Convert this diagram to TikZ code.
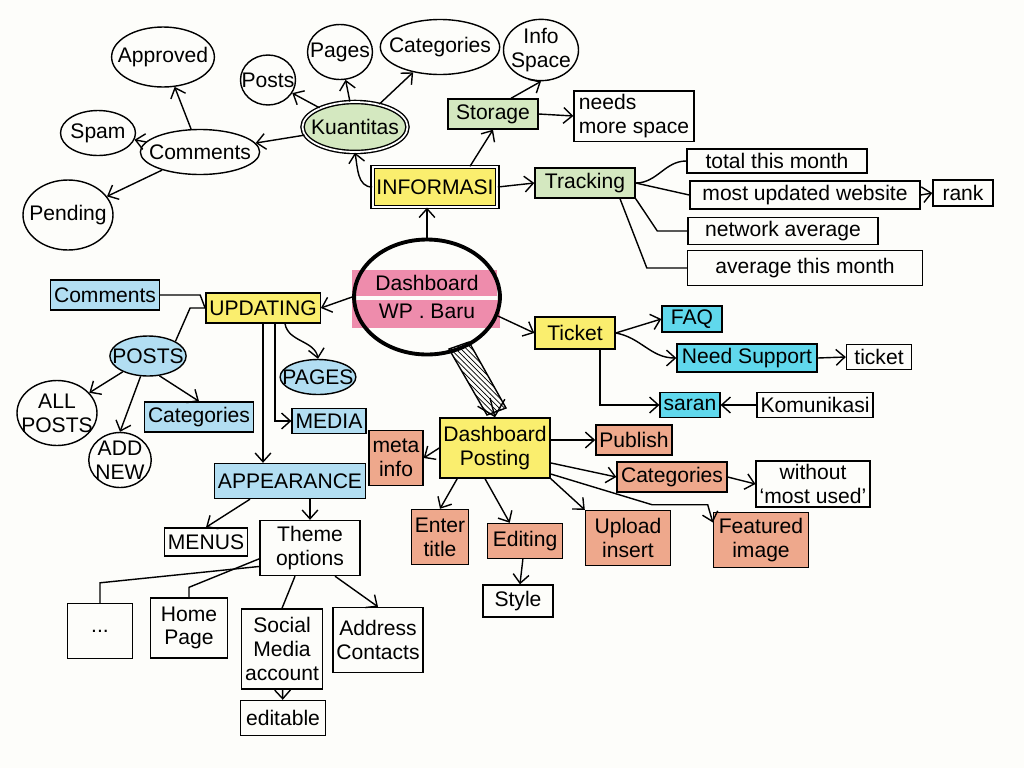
\documentclass[tikz,border=0pt]{standalone}
\usepackage{fontspec}
\setmainfont{Liberation Sans}
\usepackage{tikz}
\usetikzlibrary{shapes.geometric, arrows.meta, positioning, calc, patterns}
\definecolor{paper}{RGB}{253,253,250}
\definecolor{hlyellow}{RGB}{250,238,110}
\definecolor{hlgreen}{RGB}{212,232,192}
\definecolor{hlblue}{RGB}{178,222,242}
\definecolor{hlcyan}{RGB}{96,216,236}
\definecolor{hlpink}{RGB}{238,140,172}
\definecolor{hlorange}{RGB}{238,168,140}
\newcommand{\handfont}{\fontsize{12}{13.5}\selectfont}

\begin{document}
\begin{tikzpicture}[x=0.02cm, y=-0.02cm,
  box/.style={draw, thick, rectangle, align=center, inner sep=2pt, font=\handfont},
  oval/.style={draw, thick, ellipse, align=center, inner xsep=-5pt, inner ysep=0pt, font=\handfont},
  arr/.style={thick, -{Straight Barb[length=5pt,width=9pt]}},
  ln/.style={thick}]
\fill[paper] (0,0) rectangle (1024,768);

% informasi side
\node[oval, minimum width=1.9cm, minimum height=1.2cm] (approved) at (163,57) {Approved};
\node[oval, minimum width=1.5cm, minimum height=0.9cm] (spam) at (98,133) {Spam};
\node[oval, minimum width=2.1cm, minimum height=0.9cm] (comments) at (200,152) {Comments};
\node[oval, minimum width=1.8cm, minimum height=1.4cm] (pending) at (68,215) {Pending};
\node[oval, minimum width=1.1cm, minimum height=1.0cm] (kposts) at (268,80) {Posts};
\node[oval, minimum width=1.3cm, minimum height=1.1cm] (kpages) at (340,52) {Pages};
\node[oval, minimum width=2.0cm, minimum height=1.1cm] (kcat) at (440,47) {Categories};
\node[oval, minimum width=1.5cm, minimum height=1.2cm] (infospace) at (541,50) {Info\\Space};
\node[oval, fill=hlgreen, double, double distance=1pt, minimum width=2.1cm, minimum height=1.0cm] (kuant) at (355,127) {Kuantitas};
\node[box, fill=hlgreen, minimum width=1.8cm, minimum height=0.6cm] (storage) at (493,114) {Storage};
\node[box, align=left, minimum width=2.4cm, minimum height=0.9cm] (needs) at (634,116) {needs\\more space};
\node[box, fill=hlyellow, double, double distance=1.2pt, minimum width=2.3cm, minimum height=0.8cm] (informasi) at (435,187) {INFORMASI};
\node[box, fill=hlgreen, minimum width=2.0cm, minimum height=0.6cm] (tracking) at (585,183) {Tracking};
\node[box, minimum width=3.6cm, minimum height=0.48cm] (total) at (777,161) {total this month};
\node[box, minimum width=4.6cm, minimum height=0.56cm] (most) at (805,195) {most updated website};
\node[box, minimum width=1.2cm, minimum height=0.52cm] (rank) at (963,193) {rank};
\node[box, minimum width=3.8cm, minimum height=0.5cm] (network) at (783,231) {network average};
\node[box, minimum width=4.7cm, minimum height=0.7cm] (avg) at (805,268) {average this month};

% centre
\fill[hlpink] (352,270) rectangle (497,296);
\fill[hlpink] (352,300) rectangle (500,328);
\draw[thick, pattern=north west lines] (449,349) -- (469,342) -- (506,408) -- (487,415) -- cycle;
\node[draw, ellipse, line width=2.2pt, align=center, inner sep=0pt, font=\handfont,
  minimum width=2.9cm, minimum height=2.3cm] (wp) at (427,297) {Dashboard\\[2pt]WP . Baru};
\coordinate (hdl) at (490,398);

% updating side
\node[box, fill=hlyellow, minimum width=2.0cm, minimum height=0.6cm] (updating) at (263,308) {UPDATING};
\node[box, fill=hlblue, minimum width=2.0cm, minimum height=0.6cm] (ucomments) at (105,295) {Comments};
\node[oval, fill=hlblue, minimum width=1.4cm, minimum height=0.8cm] (uposts) at (148,356) {POSTS};
\node[oval, minimum width=1.6cm, minimum height=1.3cm] (allposts) at (57,413) {ALL\\POSTS};
\node[oval, minimum width=1.25cm, minimum height=1.1cm] (addnew) at (120,460) {ADD\\NEW};
\node[box, fill=hlblue, minimum width=2.0cm, minimum height=0.6cm] (ucat) at (199,417) {Categories};
\node[oval, fill=hlblue, minimum width=1.45cm, minimum height=0.7cm] (upages) at (318,377) {PAGES};
\node[box, fill=hlblue, minimum width=1.4cm, minimum height=0.5cm] (media) at (329,421) {MEDIA};
\node[box, fill=hlblue, minimum width=2.6cm, minimum height=0.7cm] (appearance) at (290,481) {APPEARANCE};
\node[box, minimum width=1.4cm, minimum height=0.56cm] (menus) at (206,542) {MENUS};
\node[box, minimum width=2.0cm, minimum height=1.1cm] (theme) at (310,548) {Theme\\options};
\node[box, minimum width=1.3cm, minimum height=1.1cm] (dots) at (100,631) {...};
\node[box, minimum width=1.55cm, minimum height=1.2cm] (home) at (189,628) {Home\\Page};
\node[box, minimum width=1.6cm, minimum height=1.6cm] (social) at (282,649) {Social\\Media\\account};
\node[box, minimum width=1.7cm, minimum height=1.3cm] (address) at (378,640) {Address\\Contacts};
\node[box, minimum width=1.7cm, minimum height=0.7cm] (editable) at (283,718) {editable};

% ticket side
\node[box, fill=hlyellow, minimum width=1.6cm, minimum height=0.64cm] (ticket) at (575,333) {Ticket};
\node[box, fill=hlcyan, minimum width=1.2cm, minimum height=0.5cm] (faq) at (692,319) {FAQ};
\node[box, fill=hlcyan, minimum width=2.8cm, minimum height=0.56cm] (support) at (747,358) {Need Support};
\node[box, minimum width=1.3cm, minimum height=0.5cm] (tick) at (879,357) {ticket};
\node[box, fill=hlcyan, minimum width=1.1cm, minimum height=0.5cm] (saran) at (690,405) {saran};
\node[box, minimum width=2.2cm, minimum height=0.5cm] (komunikasi) at (815,405) {Komunikasi};

% posting side
\node[box, fill=hlyellow, minimum width=2.1cm, minimum height=1.2cm] (posting) at (495,448) {Dashboard\\Posting};
\node[box, fill=hlorange, minimum width=1.0cm, minimum height=1.1cm] (meta) at (396,458) {meta\\info};
\node[box, fill=hlorange, minimum width=1.5cm, minimum height=0.6cm] (publish) at (634,440) {Publish};
\node[box, fill=hlorange, minimum width=2.2cm, minimum height=0.6cm] (pcat) at (672,477) {Categories};
\node[box, minimum width=2.1cm, minimum height=0.9cm] (without) at (813,484) {without\\`most used'};
\node[box, fill=hlorange, minimum width=1.1cm, minimum height=1.1cm] (enter) at (440,537) {Enter\\title};
\node[box, fill=hlorange, minimum width=1.5cm, minimum height=0.7cm] (editing) at (525,541) {Editing};
\node[box, minimum width=1.4cm, minimum height=0.64cm] (style) at (518,601) {Style};
\node[box, fill=hlorange, minimum width=1.7cm, minimum height=1.1cm] (upload) at (628,538) {Upload\\insert};
\node[box, fill=hlorange, minimum width=1.9cm, minimum height=1.1cm] (featured) at (761,540) {Featured\\image};

% connectors
\draw[arr] (wp.north) -- (wp.north |- informasi.south);
\draw[arr] (informasi.west) to[out=180,in=-80] (kuant.south);
\draw[arr] ($(informasi.north)+(35,0)$) -- (storage.south);
\draw[arr] (informasi.east) -- (tracking.west);
\draw[arr] (kuant) -- (kposts);
\draw[arr] (kuant) -- (kpages);
\draw[arr] (kuant) -- (kcat);
\draw[arr] (kuant) -- (comments);
\draw[arr] (comments) -- (approved);
\draw[arr] (comments) -- (spam);
\draw[arr] (comments) -- (pending);
\draw[arr] ($(storage.north)+(18,0)$) -- (infospace.south);
\draw[arr] (storage.east) -- (needs.west);
\draw[ln] (tracking.east) to[out=0,in=180] (total.west);
\draw[ln] (tracking.east) -- (most.west);
\draw[ln] (tracking.south east) -- ($(network.west)+(-30,0)$) -- (network.west);
\draw[ln] ($(tracking.south)+(35,0)$) -- ($(avg.west)+(-40,0)$) -- (avg.west);
\draw[arr] (most.east) -- (rank.west);

\draw[arr] (wp.west) -- (updating.east);
\draw[arr] (wp.-15) -- (ticket.west);
\draw[thick, -{Straight Barb[length=8pt,width=16pt]}] (hdl) -- (posting.north);

\draw[ln] (ucomments.east) -- ++(40,0) -- (updating.west);
\draw[ln] (updating.west) -- ++(-15,0) -- (uposts.north east);
\draw[arr] (uposts) -- (allposts);
\draw[arr] (uposts.-110) -- (addnew.north);
\draw[arr] (uposts.-60) -- (ucat.north);
\draw[arr] ($(updating.south)+(22,0)$) to[out=-80,in=100] (upages.north);
\draw[arr] ($(updating.south)+(12,0)$) |- (media.west);
\draw[arr] (updating.south) -- (updating.south |- appearance.north);
\draw[arr] ($(appearance.south)+(-40,0)$) -- (menus.north);
\draw[arr] (appearance.south -| theme.north) -- (theme.north);
\draw[ln] (theme.200) -- ($(dots.north)+(0,-20)$) -- (dots.north);
\draw[ln] (theme.192) -- ($(home.north)+(0,-10)$) -- (home.north);
\draw[ln] ($(theme.south)+(-15,0)$) -- (social.north);
\draw[arr] ($(theme.south)+(25,0)$) -- (address.north);
\draw[arr] (social) -- (editable);

\draw[arr] (ticket.east) -- (faq.west);
\draw[arr] (ticket.east) to[out=-10,in=180] (support.west);
\draw[arr] ($(ticket.south)+(25,0)$) |- (saran.west);
\draw[arr] (support.east) -- (tick.west);
\draw[arr] (komunikasi.west) -- (saran.east);

\draw[arr] (posting.west) -- (meta.east);
\draw[arr] (posting.east |- publish.west) -- (publish.west);
\draw[arr] (posting.-15) -- (pcat.west);
\draw[arr] (pcat.east) -- (without.west);
\draw[arr] (posting.south east) -- (upload.north west);
\draw[arr] (posting.-25) -- ($(pcat.south)+(-20,12)$) -- ($(pcat.south east)+(-20,12)$) -- (featured.160);
\draw[arr] ($(posting.south west)+(18,0)$) -- (enter.north);
\draw[arr] ($(posting.south)+(-10,0)$) -- (editing.130);
\draw[arr] (editing) -- (style);
\end{tikzpicture}
\end{document}
